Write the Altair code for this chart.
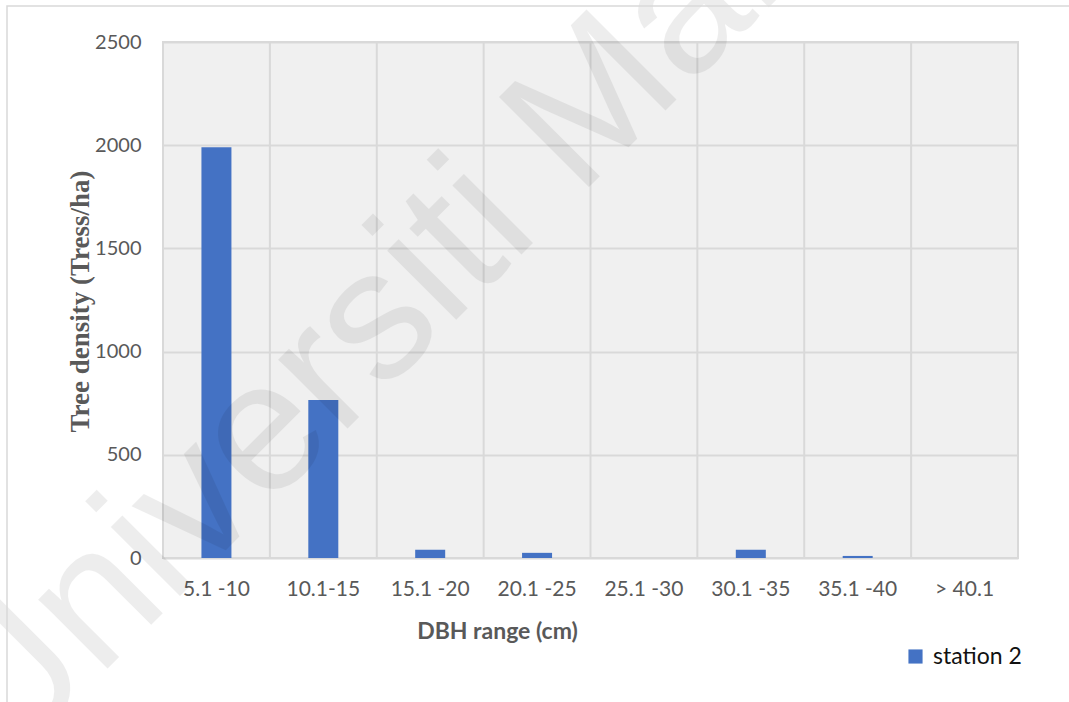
import altair as alt
import pandas as pd

# DBH classes and tree density (trees/ha) for station 2
dbh_classes = ["5.1 -10", "10.1-15", "15.1 -20", "20.1 -25", "25.1 -30", "30.1 -35", "35.1 -40", "> 40.1"]
density = [1990, 765, 40, 25, 0, 40, 10, 0]
series = ["station 2"] * len(dbh_classes)
y_ticks = [0, 500, 1000, 1500, 2000, 2500]

df = pd.DataFrame({"dbh": dbh_classes, "density": density, "series": series})

W, H = 855, 516
GRID = "#d9d9d9"
TEXT = "#595959"

x_scale = alt.Scale(paddingInner=0, paddingOuter=0)
x_axis = alt.Axis(
    title="DBH range (cm)",
    labelAngle=0,
    labelFont="Lato",
    labelFontSize=21,
    labelColor=TEXT,
    labelPadding=20,
    domain=False,
    ticks=False,
    grid=False,
    titleFont="Lato",
    titleFontSize=23,
    titleFontWeight="bold",
    titleColor=TEXT,
    titleX=334,
    titleY=73,
    titleAlign="center",
    titleBaseline="middle",
)

# vertical separators at the start of every category band
vgrid = alt.Chart(df).mark_rule(color=GRID, strokeWidth=2).encode(
    x=alt.X("dbh:N", sort=dbh_classes, bandPosition=0, scale=x_scale, axis=x_axis)
)

bars = alt.Chart(df).mark_bar(size=30).encode(
    x=alt.X("dbh:N", sort=dbh_classes, scale=x_scale, axis=x_axis),
    y=alt.Y(
        "density:Q",
        scale=alt.Scale(domain=[0, 2500], nice=False),
        axis=alt.Axis(
            title="Tree density (Tress/ha)",
            values=y_ticks,
            format="d",
            labelFont="Lato",
            labelFontSize=20,
            labelColor=TEXT,
            labelPadding=22,
            domain=False,
            ticks=False,
            grid=True,
            gridColor=GRID,
            gridWidth=2,
            titleFont="Liberation Serif",
            titleFontSize=27,
            titleFontWeight="bold",
            titleColor=TEXT,
            titleAngle=270,
            titleX=-83,
            titleY=259,
            titleAlign="center",
            titleBaseline="middle",
        ),
    ),
    color=alt.Color(
        "series:N",
        scale=alt.Scale(domain=["station 2"], range=["#4472C4"]),
        legend=alt.Legend(
            title=None,
            orient="none",
            legendX=741,
            legendY=603,
            symbolType="square",
            symbolSize=200,
            symbolStrokeWidth=0,
            labelFont="Lato",
            labelFontSize=23,
            labelColor="#111111",
            labelOffset=6,
            padding=0,
        ),
    ),
)

# faint diagonal watermark across the figure
watermark = alt.Chart(pd.DataFrame({"t": ["Universiti Malaya"]})).mark_text(
    font="Liberation Sans",
    fontSize=185,
    angle=315,
    align="left",
    baseline="alphabetic",
    color="#000000",
    opacity=0.065,
).encode(text="t:N", x=alt.value(-159), y=alt.value(730))

# thin outer frame around the figure
frame = alt.Chart(pd.DataFrame({"k": [0]})).mark_rect(
    fill=None, stroke=GRID, strokeWidth=1.5
).encode(x=alt.value(-156), y=alt.value(-36), x2=alt.value(920), y2=alt.value(680))

chart = (
    alt.layer(vgrid, bars, watermark, frame)
    .properties(
        width=W,
        height=H,
        autosize=alt.AutoSizeParams(type="none"),
        padding={"left": 163, "top": 42, "right": 51, "bottom": 144},
        background="white",
    )
    .configure_view(fill="#f0f0f0", stroke=GRID, strokeWidth=2)
)

chart.save("out.html", embed_options={"renderer": "svg", "actions": False})
